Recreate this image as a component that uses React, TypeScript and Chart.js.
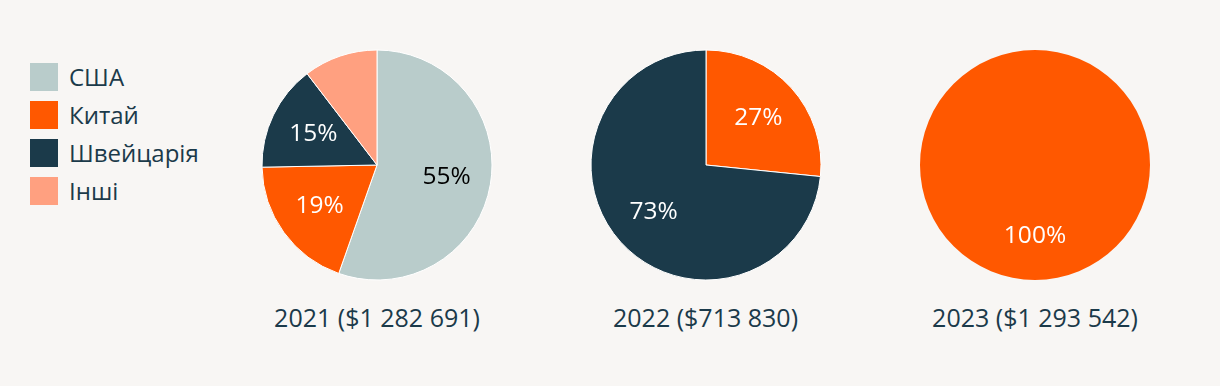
import React, { useEffect, useRef } from "react";
import { Chart, registerables } from "chart.js";

Chart.register(...registerables);

const categories = ["США", "Китай", "Швейцарія", "Інші"];
const colors = ["#b9cccb", "#ff5800", "#1b3a4a", "#ffa080"];
const labelColors = ["#000000", "#ffffff", "#ffffff", "#ffffff"];
const years = ["2021", "2022", "2023"];
const totals = ["$1 282 691", "$713 830", "$1 293 542"];
const share2021 = [55.4, 19.3, 14.9, 10.4];
const share2022 = [0, 26.6, 73.4, 0];
const share2023 = [0, 100, 0, 0];
const shares = [share2021, share2022, share2023];

const BG = "#f8f6f4";
const TEXT = "#1b3a4a";
const FONT = "'Open Sans', 'Noto Sans', sans-serif";
const centersX = [377, 705.5, 1035];
const centerY = 165;
const RADIUS = 115;
const CANVAS = 250;

const pctLabels = {
  id: "pctLabels",
  afterDatasetsDraw(chart: any) {
    const ctx = chart.ctx;
    const ds = chart.data.datasets[0];
    const values: number[] = ds.data;
    const total = values.reduce((a, b) => a + b, 0);
    const meta = chart.getDatasetMeta(0);
    ctx.save();
    ctx.font = `24.5px ${FONT}`;
    ctx.textAlign = "center";
    ctx.textBaseline = "middle";
    meta.data.forEach((arc: any, i: number) => {
      const pct = Math.round((values[i] / total) * 100);
      if (pct < 12) return;
      const p = arc.getProps(["x", "y", "startAngle", "endAngle", "outerRadius"], true);
      const mid = (p.startAngle + p.endAngle) / 2;
      const d = p.outerRadius * 0.615;
      ctx.fillStyle = labelColors[i];
      ctx.fillText(pct + "%", p.x + Math.cos(mid) * d, p.y + Math.sin(mid) * d);
    });
    ctx.restore();
  },
};

function Pie({ data, border }: { data: number[]; border: number }) {
  const ref = useRef<HTMLCanvasElement | null>(null);
  useEffect(() => {
    if (!ref.current) return;
    const chart = new Chart(ref.current, {
      type: "pie",
      data: {
        labels: categories,
        datasets: [
          {
            data,
            backgroundColor: colors,
            borderColor: "#ffffff",
            borderWidth: border,
            radius: RADIUS,
            hoverOffset: 0,
          } as any,
        ],
      },
      options: {
        responsive: false,
        animation: false,
        layout: { padding: 0 },
        plugins: { legend: { display: false }, tooltip: { enabled: false } },
      },
      plugins: [pctLabels],
    });
    return () => chart.destroy();
  }, []);
  return <canvas ref={ref} width={CANVAS} height={CANVAS} style={{ width: CANVAS, height: CANVAS }} />;
}

export default function App() {
  useEffect(() => {
    document.body.style.margin = "0";
    document.body.style.background = BG;
  }, []);
  return (
    <div style={{ position: "relative", width: 1220, height: 386, background: BG, fontFamily: FONT, color: TEXT, overflow: "hidden" }}>
      {categories.map((c, i) => (
        <div key={c} style={{ position: "absolute", left: 30, top: 63 + i * 38, height: 28, display: "flex", alignItems: "center" }}>
          <div style={{ width: 28, height: 28, background: colors[i] }} />
          <span style={{ marginLeft: 11, fontSize: 24, lineHeight: "28px", whiteSpace: "nowrap" }}>{c}</span>
        </div>
      ))}
      {shares.map((s, k) => (
        <React.Fragment key={years[k]}>
          <div style={{ position: "absolute", left: centersX[k] - CANVAS / 2, top: centerY - CANVAS / 2, width: CANVAS, height: CANVAS }}>
            <Pie data={s} border={k === 2 ? 0 : 1} />
          </div>
          <div style={{ position: "absolute", left: centersX[k] - 150, width: 300, top: 301, textAlign: "center", fontSize: 25, lineHeight: "32px", whiteSpace: "nowrap" }}>
            {years[k]} ({totals[k]})
          </div>
        </React.Fragment>
      ))}
    </div>
  );
}
